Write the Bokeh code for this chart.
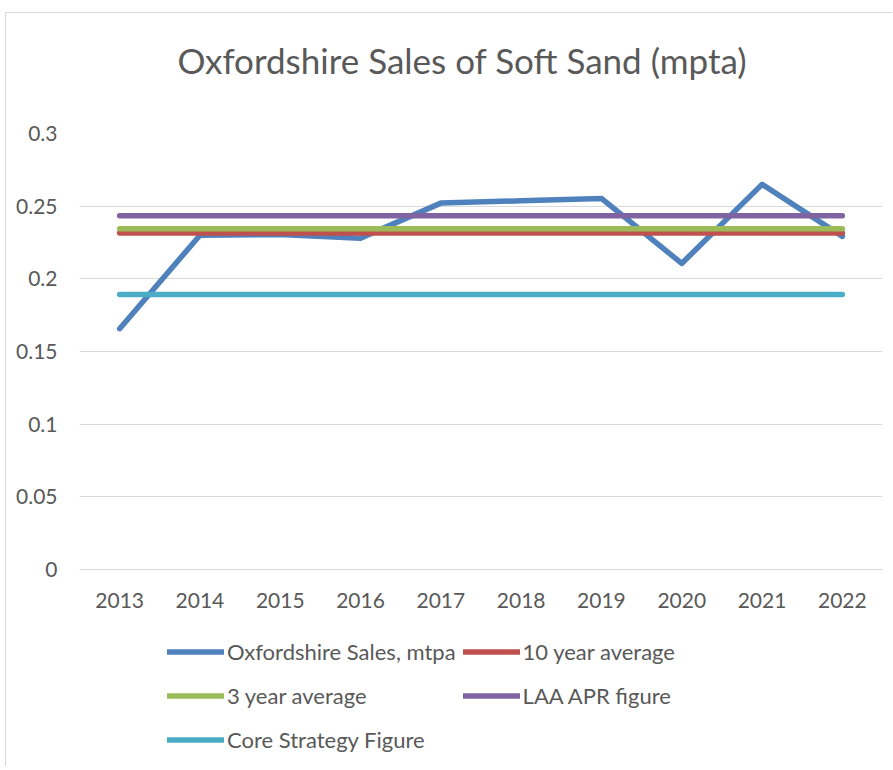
from bokeh.plotting import figure
from bokeh.layouts import column
from bokeh.models import FactorRange, Range1d, FixedTicker, Legend, LegendItem, Title
from bokeh.embed import file_html
from bokeh.resources import INLINE

# ---- data ----
years = ["2013", "2014", "2015", "2016", "2017", "2018", "2019", "2020", "2021", "2022"]
sales = [0.1657, 0.2300, 0.2305, 0.2280, 0.2521, 0.2537, 0.2553, 0.2106, 0.2650, 0.2292]
ten_year_average = 0.2315
three_year_average = 0.2345
laa_apr_figure = 0.2434
core_strategy_figure = 0.1893
y_ticks = [0, 0.05, 0.1, 0.15, 0.2, 0.25, 0.3]
y_tick_labels = ["0", "0.05", "0.1", "0.15", "0.2", "0.25", "0.3"]
series_names = ["Oxfordshire Sales, mtpa", "10 year average", "3 year average",
                "LAA APR figure", "Core Strategy Figure"]
series_colors = ["#4F81BD", "#C0504D", "#9BBB59", "#8064A2", "#4BACC6"]
title_text = "Oxfordshire Sales of Soft Sand (mpta)"

FONT = "Lato"
TXT = "#595959"
GRID = "#D9D9D9"
LW = 5.5

# chart figure; column placed at (5,12) with a 1px border -> content starts at (6,13)
p = figure(width=886, height=607, title_location=None,
           x_range=FactorRange(*years, range_padding=0),
           y_range=Range1d(0, 0.3),
           output_backend="svg", toolbar_location=None,
           min_border_left=73, min_border_right=10,
           min_border_top=120, min_border_bottom=51)

# blank spacer closest to the frame, then the visible title above it
p.add_layout(Title(text=" ", text_font_size="1px", text_color="#FFFFFF", standoff=50), "above")
p.add_layout(Title(text=title_text, text_font=FONT, text_font_size="35px",
                   text_font_style="normal", text_color=TXT,
                   align="left", offset=98, standoff=0), "above")

p.outline_line_color = None
p.xgrid.grid_line_color = None
p.ygrid.grid_line_color = GRID
p.ygrid.grid_line_width = 1

p.yaxis.ticker = FixedTicker(ticks=y_ticks)
p.yaxis.major_label_overrides = {t: l for t, l in zip(y_ticks, y_tick_labels)}
p.yaxis.axis_line_color = None
p.yaxis.major_tick_line_color = None
p.yaxis.minor_tick_line_color = None
p.yaxis.major_tick_out = 0
p.yaxis.major_tick_in = 0
p.yaxis.major_label_standoff = 22
p.yaxis.major_label_text_font = FONT
p.yaxis.major_label_text_font_size = "21px"
p.yaxis.major_label_text_color = TXT

p.xaxis.axis_line_color = GRID
p.xaxis.major_tick_line_color = None
p.xaxis.major_tick_out = 0
p.xaxis.major_tick_in = 0
p.xaxis.major_label_standoff = 23
p.xaxis.major_label_text_font = FONT
p.xaxis.major_label_text_font_size = "21px"
p.xaxis.major_label_text_color = TXT

series_values = [
    sales,
    [ten_year_average] * len(years),
    [three_year_average] * len(years),
    [laa_apr_figure] * len(years),
    [core_strategy_figure] * len(years),
]

for color, vals in zip(series_colors, series_values):
    p.line(years, vals, line_color=color, line_width=LW,
           line_cap="round", line_join="round")

# legend strip below the chart (its sample lines sit outside its visible range)
q = figure(width=886, height=146, output_backend="svg", toolbar_location=None,
           x_axis_location=None, y_axis_location=None, title_location=None,
           x_range=(0, 1), y_range=(-2, -1), min_border=0)
q.outline_line_color = None
q.grid.visible = False

items = []
for name, color, vals in zip(series_names, series_colors, series_values):
    r = q.line(x=list(range(len(vals))), y=vals, line_color=color,
               line_width=LW, line_cap="round")
    items.append(LegendItem(label=name, renderers=[r]))

legend = Legend(items=items, location=(88, 8), orientation="horizontal", ncols=2,
                glyph_width=57, glyph_height=37, label_height=37,
                label_standoff=3, spacing=7, padding=5, margin=0,
                label_text_font=FONT, label_text_font_size="22px",
                label_text_color=TXT, border_line_color=None,
                background_fill_alpha=0)
q.add_layout(legend, "center")

layout = column(p, q, spacing=0)
layout.styles = {"margin-left": "5px", "margin-top": "12px",
                 "border-left": "1px solid #D9D9D9", "border-top": "1px solid #D9D9D9"}

open("out.html", "w").write(file_html(layout, INLINE))
